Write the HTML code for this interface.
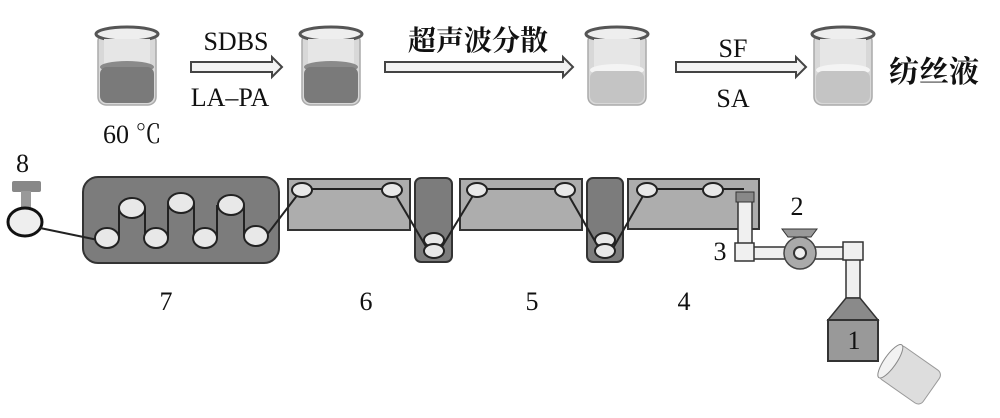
<!DOCTYPE html>
<html><head><meta charset="utf-8"><style>
html,body{margin:0;padding:0;background:#fff;}
svg{display:block;}
text{font-family:"Liberation Serif","Noto Serif CJK SC",serif;fill:#111;}
</style></head><body>
<svg width="1000" height="418" viewBox="0 0 1000 418" xmlns="http://www.w3.org/2000/svg">
<defs>
<g id="bk">
 <rect x="2" y="8" width="58" height="72" rx="8" fill="#d8d8d8" stroke="#aaa" stroke-width="1.5"/>
 <ellipse cx="31" cy="9" rx="31" ry="7" fill="#eee" stroke="#555" stroke-width="3"/>
 <rect x="8" y="14" width="46" height="62" fill="#e6e6e6"/>
</g>
</defs>
<!-- beakers -->
<g transform="translate(96,25)"><use href="#bk"/><ellipse cx="31" cy="42" rx="27" ry="6" fill="#8a8a8a"/><rect x="4" y="42" width="54" height="36" rx="7" fill="#7a7a7a"/></g>
<g transform="translate(300,25)"><use href="#bk"/><ellipse cx="31" cy="42" rx="27" ry="6" fill="#8a8a8a"/><rect x="4" y="42" width="54" height="36" rx="7" fill="#7a7a7a"/></g>
<g transform="translate(586,25)"><use href="#bk"/><ellipse cx="31" cy="45" rx="27" ry="6" fill="#f4f4f4"/><rect x="4" y="46" width="54" height="32" rx="7" fill="#c4c4c4"/></g>
<g transform="translate(812,25)"><use href="#bk"/><ellipse cx="31" cy="45" rx="27" ry="6" fill="#f4f4f4"/><rect x="4" y="46" width="54" height="32" rx="7" fill="#c4c4c4"/></g>
<!-- arrows -->
<g fill="#f2f2f2" stroke="#444" stroke-width="2">
<path d="M191,62 H272 V57 L282,67 L272,77 V72 H191 Z"/>
<path d="M385,62 H563 V57 L573,67 L563,77 V72 H385 Z"/>
<path d="M676,62 H796 V57 L806,67 L796,77 V72 H676 Z"/>
</g>
<text x="236" y="50" font-size="26" text-anchor="middle">SDBS</text>
<text x="230" y="106" font-size="26" text-anchor="middle">LA–PA</text>
<text x="478" y="50" font-size="28" font-weight="bold" text-anchor="middle" font-family="Noto Serif CJK SC,serif">超声波分散</text>
<text x="733" y="57" font-size="26" text-anchor="middle">SF</text>
<text x="733" y="107" font-size="26" text-anchor="middle">SA</text>
<text x="889" y="82" font-size="30" font-weight="bold" font-family="Noto Serif CJK SC,serif">纺丝液</text>
<text x="103" y="143" font-size="26">60 ℃</text>
<!-- 8 -->
<text x="16" y="172" font-size="26">8</text>
<rect x="12" y="181" width="29" height="11" rx="2" fill="#888"/>
<rect x="21" y="191" width="10" height="17" fill="#999"/>
<ellipse cx="25" cy="222" rx="17" ry="14" fill="#eee" stroke="#111" stroke-width="3"/>
<!-- boxes -->
<rect x="83" y="177" width="196" height="86" rx="15" fill="#7c7c7c" stroke="#333" stroke-width="2"/>
<rect x="288" y="179" width="122" height="51" fill="#adadad" stroke="#333" stroke-width="2"/>
<rect x="415" y="178" width="37" height="84" rx="6" fill="#7c7c7c" stroke="#333" stroke-width="2"/>
<rect x="460" y="179" width="122" height="51" fill="#adadad" stroke="#333" stroke-width="2"/>
<rect x="587" y="178" width="36" height="84" rx="6" fill="#7c7c7c" stroke="#333" stroke-width="2"/>
<rect x="628" y="179" width="131" height="50" fill="#adadad" stroke="#333" stroke-width="2"/>
<!-- fiber line -->
<polyline fill="none" stroke="#222" stroke-width="2" points="40,228 98,240"/>
<path fill="none" stroke="#222" stroke-width="2" d="M119,238 V208 M145,208 V238 M168,238 V203 M194,203 V238 M217,238 V205 M244,205 V236 M266,236 L302,189 H392 L428,250 H440 L477,189 H565 L600,250 H612 L647,189 H744"/>
<g fill="#e8e8e8" stroke="#222" stroke-width="2">
<ellipse cx="107" cy="238" rx="12" ry="10"/><ellipse cx="156" cy="238" rx="12" ry="10"/><ellipse cx="205" cy="238" rx="12" ry="10"/><ellipse cx="256" cy="236" rx="12" ry="10"/>
<ellipse cx="132" cy="208" rx="13" ry="10"/><ellipse cx="181" cy="203" rx="13" ry="10"/><ellipse cx="231" cy="205" rx="13" ry="10"/>
<ellipse cx="302" cy="190" rx="10" ry="7"/><ellipse cx="392" cy="190" rx="10" ry="7"/>
<ellipse cx="477" cy="190" rx="10" ry="7"/><ellipse cx="565" cy="190" rx="10" ry="7"/>
<ellipse cx="647" cy="190" rx="10" ry="7"/><ellipse cx="713" cy="190" rx="10" ry="7"/>
<ellipse cx="434" cy="240" rx="10" ry="7"/><ellipse cx="434" cy="251" rx="10" ry="7"/>
<ellipse cx="605" cy="240" rx="10" ry="7"/><ellipse cx="605" cy="251" rx="10" ry="7"/>
</g>
<!-- pipes -->
<g fill="#f0f0f0" stroke="#333" stroke-width="1.5">
<rect x="738" y="200" width="14" height="45"/>
<rect x="752" y="247" width="40" height="12"/>
<rect x="812" y="247" width="35" height="12"/>
<rect x="846" y="258" width="14" height="40"/>
<rect x="735" y="243" width="19" height="18"/>
<rect x="843" y="242" width="20" height="18"/>
</g>
<rect x="736" y="192" width="18" height="10" fill="#888" stroke="#333"/>
<path d="M782,229 H817 L811,237 H788 Z" fill="#999" stroke="#333"/>
<circle cx="800" cy="253" r="16" fill="#aaa" stroke="#444" stroke-width="1.5"/>
<circle cx="800" cy="253" r="6" fill="#eee" stroke="#333" stroke-width="2"/>
<path d="M846,298 H860 L878,320 H828 Z" fill="#8a8a8a" stroke="#333" stroke-width="1.5"/>
<rect x="828" y="320" width="50" height="41" fill="#999" stroke="#333" stroke-width="2"/>
<g transform="translate(910,375) rotate(35)">
<rect x="-26" y="-20" width="52" height="40" rx="6" fill="#ddd" stroke="#999"/>
<ellipse cx="-24" cy="0" rx="6" ry="20" fill="#f2f2f2" stroke="#888"/>
</g>
<!-- labels -->
<text x="166" y="310" font-size="26" text-anchor="middle">7</text>
<text x="366" y="310" font-size="26" text-anchor="middle">6</text>
<text x="532" y="310" font-size="26" text-anchor="middle">5</text>
<text x="684" y="310" font-size="26" text-anchor="middle">4</text>
<text x="720" y="260" font-size="26" text-anchor="middle">3</text>
<text x="797" y="215" font-size="26" text-anchor="middle">2</text>
<text x="854" y="349" font-size="26" text-anchor="middle">1</text>
</svg>
</body></html>
